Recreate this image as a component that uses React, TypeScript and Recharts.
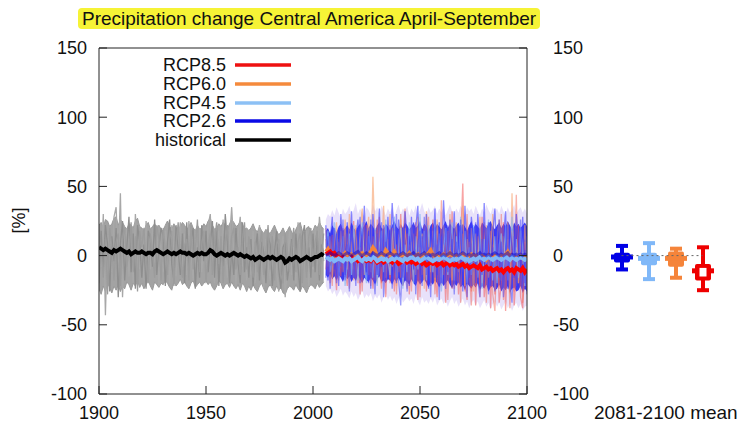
import React from "react";
import {
  ComposedChart,
  Line,
  Area,
  Bar,
  XAxis,
  YAxis,
  Legend,
  ReferenceLine,
} from "recharts";

// historical ensemble 1900-2005
const histMean = [
  6, 5, 4, 5, 4, 3, 2, 4, 3, 4,
  5, 4, 3, 2, 3, 1, 2, 3, 2, 2,
  3, 2, 1, 2, 2, 1, 3, 4, 3, 2,
  1, 2, 3, 2, 1, 2, 1, 2, 3, 2,
  2, 1, 2, 1, 0, 1, 2, 1, 2, 1,
  1, 2, 4, 3, 1, 0, 1, 2, 1, 0,
  1, 0, 1, 2, 1, 0, 1, 0, -1, 0,
  -1, -2, -1, -3, -2, -1, -2, -3, -2, -1,
  -2, -1, -2, -3, -2, -1, -2, -5, -4, -2,
  -3, -2, -1, -2, -4, -3, -2, -1, -2, -3,
  -2, -1, -1, 0, 1, 0,
];
const histHi = [
  22, 24, 20, 26, 25, 21, 23, 27, 28, 22,
  26, 24, 21, 19, 23, 22, 20, 25, 27, 21,
  20, 18, 22, 24, 19, 21, 23, 20, 22, 19,
  18, 22, 25, 21, 19, 23, 20, 18, 21, 24,
  22, 19, 21, 24, 20, 18, 22, 19, 20, 23,
  21, 25, 27, 22, 19, 20, 23, 21, 24, 22,
  19, 23, 26, 24, 21, 22, 25, 23, 19, 20,
  18, 20, 23, 19, 17, 21, 18, 16, 19, 17,
  16, 19, 22, 18, 15, 17, 20, 16, 18, 21,
  17, 15, 19, 22, 24, 18, 16, 20, 21, 17,
  18, 22, 20, 24, 21, 19,
];
const histLo = [
  -24, -28, -22, -26, -20, -23, -27, -22, -25, -21,
  -26, -22, -24, -19, -21, -25, -20, -22, -18, -23,
  -20, -24, -21, -18, -22, -25, -19, -21, -23, -20,
  -21, -18, -20, -23, -25, -19, -22, -20, -17, -21,
  -19, -22, -24, -20, -18, -23, -21, -19, -22, -20,
  -18, -21, -19, -23, -25, -22, -18, -20, -24, -21,
  -20, -23, -19, -22, -24, -21, -25, -20, -22, -26,
  -22, -25, -21, -24, -26, -22, -20, -24, -27, -23,
  -21, -24, -26, -22, -25, -23, -27, -28, -24, -22,
  -23, -25, -21, -24, -26, -22, -24, -27, -23, -21,
  -22, -24, -20, -23, -21, -19,
];
const histMemberA = [
  10, -8, 30, -43, 15, 5, -12, 28, 35, -5,
  45, -30, 12, 20, -15, 8, -20, 30, 5, -10,
  12, -18, 25, 3, -10, 20, -5, 14, -22, 8,
  -12, 18, 6, -20, 22, 2, -15, 10, 24, -8,
  16, -14, 25, 4, -18, 12, -6, 20, -12, 5,
  -10, 22, 30, -5, -20, 8, 18, -12, 26, 2,
  -16, 12, 35, 6, -22, 15, 28, -8, 10, -18,
  5, -14, 18, -20, 8, 22, -10, -24, 12, -6,
  -18, 10, 16, -12, -26, 4, 14, -30, -8, 18,
  -14, 6, -20, 24, 10, -16, 4, 18, -22, 8,
  -10, 20, -6, 28, 12, -4,
];
const histMemberB = [
  -20, 18, -10, 22, 8, -26, 14, -4, 20, -30,
  8, 25, -18, 6, 28, -12, 16, -24, 22, 10,
  -16, 8, -24, 18, 12, -8, 26, -14, 6, 20,
  14, -22, 10, 26, -6, -18, 22, 4, -14, 16,
  -20, 24, -8, 10, 20, -24, 6, -16, 22, -4,
  18, -12, 8, 25, -16, 20, -22, 6, -8, 30,
  10, -20, 4, -14, 20, -6, -20, 24, -12, 6,
  -16, 12, -22, 4, 16, -18, 10, 2, -20, 14,
  8, -22, 2, 18, -10, -24, 6, 10, -18, -6,
  12, -18, 16, -8, -26, 14, 22, -12, 6, -16,
  16, -12, 14, -18, 8, 2,
];
const histMemberC = [
  14, 4, -16, 12, -28, 20, 6, -18, 10, 16,
  -22, 12, 20, -8, 4, 24, -12, 14, -26, 18,
  6, 20, -6, -20, 16, 2, -16, 22, 12, -18,
  20, 4, -14, 12, 18, -22, 8, 24, -4, -16,
  8, 12, -18, 22, -10, 4, 26, -12, 8, 18,
  -20, 6, 16, -14, 12, 24, -6, 14, -20, 10,
  22, -8, 14, 20, -10, 6, -14, 12, 24, -10,
  14, 2, -16, 10, -12, 6, 18, -14, 4, 22,
  -10, 14, -18, 8, 12, -14, -20, 16, 4, -12,
  6, 20, -12, 10, 16, -20, 8, -16, 14, 20,
  -8, 10, 18, -14, 2, 16,
];

// scenario runs 2006-2100
const rcp26Mean = [
  0, 1, 2, 1, 0, 1, 2, 1, 0, 1,
  2, 1, 0, 1, 2, 3, 1, 0, 1, 2,
  1, 0, 2, 1, 0, 1, 2, 1, 0, 1,
  2, 1, 0, 1, 0, 1, 2, 1, 0, 1,
  1, 2, 0, 1, 0, 1, 2, 0, 1, 0,
  1, 0, 1, 2, 0, 1, 0, 1, 2, 1,
  0, 1, 0, 1, 2, 1, 0, 1, 0, 1,
  0, 1, 2, 0, 1, 0, 1, 0, 1, 2,
  1, 0, 1, 0, 1, 2, 0, 1, 0, 1,
  0, 1, 0, 1, 0,
];
const rcp45Mean = [
  -1, -2, -3, -2, -4, -3, -2, -3, -4, -2,
  -3, -2, -4, -3, -2, -1, -3, -4, -2, -3,
  -2, -3, -1, -2, -4, -3, -2, -3, -2, -4,
  -3, -2, -3, -1, -2, -3, -4, -2, -3, -2,
  -1, -2, -3, -2, -4, -3, -2, -1, -2, -3,
  -4, -3, -2, -3, -2, -1, -2, -3, -4, -3,
  -2, -3, -2, -1, -2, -3, -2, -4, -3, -2,
  -3, -2, -1, -2, -3, -2, -1, -2, -3, -2,
  -1, -2, -3, -2, -1, -2, -3, -1, -2, -3,
  -2, -1, -2, -3, -2,
];
const rcp60Mean = [
  3, 5, 2, 0, -1, 0, 1, -1, 0, 2,
  0, -1, 1, 0, -2, 0, 1, 2, 0, -1,
  1, 3, 6, 4, 0, -1, 1, 0, 4, 2,
  0, 1, 3, 0, -2, 0, 1, -1, 0, 2,
  0, -1, 0, 1, -2, 0, 1, 0, 2, 4,
  1, -1, 0, -2, 0, 1, -1, 0, 2, 0,
  -1, 0, -2, 0, 1, -1, -2, 0, 1, -1,
  0, -2, -1, 0, -1, -3, 0, -1, -2, 0,
  -1, -2, 0, -1, 1, 3, 0, -2, -1, -2,
  -1, 0, -2, -1, 0,
];
const rcp85Mean = [
  1, 2, 3, 1, 2, 0, -1, -2, -1, -2,
  -3, -2, -1, -3, -2, -4, -3, -2, -3, -4,
  -3, -4, -2, -3, -5, -4, -3, -5, -4, -3,
  -4, -5, -3, -4, -6, -5, -4, -3, -5, -4,
  -5, -4, -6, -5, -4, -6, -5, -7, -6, -5,
  -6, -5, -7, -6, -5, -7, -6, -5, -7, -6,
  -7, -6, -8, -7, -6, -8, -7, -9, -8, -7,
  -8, -9, -7, -10, -9, -8, -10, -9, -11, -10,
  -9, -11, -10, -12, -10, -9, -11, -10, -12, -9,
  -10, -11, -9, -12, -10,
];
const futInnerHi = [
  18, 20, 16, 22, 19, 17, 21, 23, 18, 20,
  22, 19, 24, 20, 18, 21, 23, 19, 22, 25,
  20, 23, 21, 18, 22, 24, 20, 19, 23, 21,
  18, 22, 25, 21, 19, 23, 20, 24, 22, 19,
  21, 24, 20, 22, 25, 19, 23, 21, 18, 22,
  24, 20, 23, 21, 19, 22, 25, 20, 23, 21,
  19, 22, 24, 20, 23, 21, 18, 22, 25, 20,
  23, 21, 19, 24, 22, 20, 23, 25, 21, 19,
  22, 24, 20, 23, 21, 25, 22, 19, 24, 21,
  23, 20, 22, 24, 21,
];
const futInnerLo = [
  -14, -16, -13, -17, -15, -18, -14, -16, -19, -15,
  -17, -15, -19, -16, -18, -14, -17, -20, -16, -18,
  -19, -16, -18, -21, -17, -15, -19, -18, -20, -17,
  -18, -21, -17, -19, -16, -20, -22, -18, -19, -21,
  -17, -20, -22, -18, -21, -19, -17, -20, -23, -19,
  -21, -18, -20, -23, -19, -22, -20, -18, -21, -24,
  -20, -22, -19, -23, -21, -25, -20, -22, -24, -21,
  -23, -20, -25, -22, -24, -21, -26, -23, -22, -25,
  -24, -21, -26, -23, -25, -22, -27, -24, -23, -26,
  -25, -22, -27, -24, -26,
];
const futOuterHi = [
  26, 30, 28, 33, 29, 35, 31, 27, 34, 30,
  32, 36, 29, 33, 38, 30, 34, 31, 28, 35,
  33, 29, 37, 32, 35, 30, 36, 33, 29, 34,
  31, 35, 28, 33, 37, 30, 34, 32, 36, 29,
  34, 31, 36, 30, 33, 38, 32, 29, 35, 31,
  33, 36, 30, 34, 31, 35, 29, 33, 37, 32,
  30, 34, 31, 36, 33, 29, 35, 32, 34, 30,
  36, 32, 29, 34, 31, 37, 33, 30, 35, 32,
  34, 30, 36, 32, 29, 35, 31, 33, 37, 30,
  33, 35, 31, 34, 30,
];
const futOuterLo = [
  -22, -26, -24, -28, -25, -30, -27, -24, -29, -26,
  -28, -31, -26, -30, -27, -32, -29, -25, -31, -28,
  -30, -27, -33, -29, -31, -28, -34, -30, -27, -32,
  -29, -33, -30, -35, -31, -28, -34, -32, -30, -33,
  -31, -35, -29, -33, -36, -30, -34, -32, -35, -31,
  -34, -30, -36, -33, -31, -35, -32, -37, -33, -30,
  -35, -32, -37, -34, -31, -36, -33, -38, -34, -32,
  -36, -33, -38, -35, -32, -37, -34, -39, -35, -33,
  -37, -34, -39, -36, -33, -38, -35, -40, -36, -34,
  -38, -35, -40, -37, -36,
];
const redMember1 = [
  -10, 8, -20, 15, -5, -25, 10, -15, 20, -8,
  -22, 12, -6, 25, -18, 4, -28, 14, -10, 22,
  -14, 6, -24, 18, -8, 28, -20, 2, -30, 12,
  -16, 20, -26, 8, -12, 30, -22, -4, 16, -28,
  10, -18, 24, -32, 6, -14, 22, -26, 4, -20,
  26, -12, -30, 14, -22, 8, -34, 18, -16, 32,
  -24, 6, -28, 12, 52, -20, -32, 10, -26, 16,
  -36, 4, -22, 28, -30, -14, 20, -38, 8, -28,
  14, -34, -20, 24, -40, 6, -26, 18, -36, -12,
  22, -30, -38, 10, -24,
];
const redMember2 = [
  12, -14, 4, -22, 18, -6, -18, 22, -12, 6,
  16, -24, 10, -10, 20, -20, 6, -26, 24, -4,
  8, -22, 14, -18, 26, -6, -24, 20, -12, 4,
  -20, 10, 22, -28, 4, -16, 14, 34, -24, 8,
  -26, 16, -8, 20, -30, 12, -18, 6, 28, -22,
  4, -28, 18, -20, 40, -14, 10, -32, 6, -24,
  20, -18, 4, -34, 16, -26, 30, -10, -36, 8,
  -22, 14, -30, -6, 24, -34, 2, 18, -28, -40,
  6, -24, 30, -32, -14, 12, -38, 4, -26, 44,
  -20, 8, -34, -16, 4,
];
const orangeMember = [
  20, -8, 14, -16, 8, 24, -12, 18, -4, 26,
  -10, 30, 6, -18, 22, -6, 16, 34, -14, 10,
  28, -12, 57, 8, -20, 24, 2, 36, -16, 12,
  30, -8, 18, -22, 14, 26, -10, 20, 4, -18,
  22, 8, -14, 28, -6, 16, -24, 32, 10, -12,
  18, -20, 26, 4, -16, 22, 10, -8, 30, -18,
  14, 24, -12, 6, 36, -22, 12, -6, 20, -26,
  16, -10, 28, -20, 8, 22, -16, 4, 30, -24,
  10, 26, -18, 14, -8, 24, -28, 45, -12, 6,
  -20, 18, -6, 22, -14,
];
const blueMember1 = [
  22, -18, 10, 28, -10, 16, -22, 30, 4, -14,
  24, -6, 32, -16, 12, 26, -20, 8, 36, -12,
  18, -24, 30, 6, -14, 34, -8, 22, -18, 28,
  -6, 38, 10, -20, 26, 2, -16, 32, 12, -22,
  28, -10, 20, 36, -18, 14, -8, 30, -24, 18,
  6, 34, -14, 24, -20, 40, 10, -12, 26, -6,
  32, -18, 16, 22, -26, 36, 4, -16, 28, 12,
  -20, 30, 8, -14, 38, -10, 24, -22, 16, 34,
  -8, 26, -18, 12, 32, -24, 20, 6, -16, 30,
  10, -12, 28, -20, 22,
];
const blueMember2 = [
  -16, 14, -24, 6, 20, -20, 12, -8, 26, -18,
  8, -26, 18, 4, -22, 14, 28, -16, -4, 20,
  -20, 26, -10, -28, 16, -14, 24, -30, 10, -6,
  22, -24, -4, 30, -18, -36, 20, -10, -26, 14,
  -8, 24, -28, 10, 18, -22, 28, -14, 6, -30,
  20, -16, 8, -32, 14, -8, -24, 22, -18, 12,
  -28, 10, -20, 26, -12, -6, -30, 16, -22, 8,
  24, -18, -30, 12, -6, 20, -28, -12, 6, -26,
  18, -16, 10, -30, -4, 22, -20, -34, 14, -22,
  -10, 26, -24, 4, -28,
];
const lightBlueMember = [
  6, 18, -12, -4, 24, 10, -16, 4, 14, -22,
  -6, 16, -14, 22, 2, -18, 10, 24, -8, -20,
  14, 4, -16, 20, -22, 8, 18, -12, 26, -2,
  -14, 12, 28, -16, 6, 20, -24, 8, -12, 24,
  4, -20, 14, -10, 30, -6, 18, -18, 22, 2,
  -12, 26, -6, 16, -26, 4, 20, -14, 8, 24,
  -18, 14, -4, 28, -10, 18, -20, 6, -14, 22,
  2, -16, 20, -24, 12, -8, 26, -4, -18, 14,
  -20, 8, 16, -12, 22, -18, 4, 28, -10, 12,
  -16, 20, 6, -22, 14,
];

// 2081-2100 mean summary
const scenarios = ["RCP2.6", "RCP4.5", "RCP6.0", "RCP8.5"];
const boxHi = [7, 9, 5, 6];
const boxUpper = [2, 2, 3, -6];
const boxMean = [-1, -2, -2, -11];
const boxLower = [-5, -7, -8, -18];
const boxLo = [-10, -17, -16, -25];

const yTicks = [-100, -50, 0, 50, 100, 150];
const xTicks = [1900, 1950, 2000, 2050, 2100];

const legendItems = [
  { label: "RCP8.5", color: "#ee1111" },
  { label: "RCP6.0", color: "#f58a3c" },
  { label: "RCP4.5", color: "#8cc0f5" },
  { label: "RCP2.6", color: "#0a0ae6" },
  { label: "historical", color: "#000000" },
];

const boxColors = ["#0000e6", "#80b8f8", "#f5843a", "#ee0000"];

const histYears = histMean.map((_, i) => 1900 + i);
const futYears = rcp26Mean.map((_, i) => 2006 + i);

const series = (years: number[], vals: number[]) =>
  years.map((year, i) => ({ year, v: vals[i] }));
const band = (years: number[], lo: number[], hi: number[]) =>
  years.map((year, i) => ({ year, r: [lo[i], hi[i]] }));

const boxData = scenarios.map((name, i) => ({
  name,
  range: [boxLo[i], boxHi[i]],
  hi: boxHi[i],
  up: boxUpper[i],
  mean: boxMean[i],
  low: boxLower[i],
  lo: boxLo[i],
  color: boxColors[i],
  hollow: i === 3,
}));

const font = "'Liberation Sans', Arial, sans-serif";
const tickStyle = { fontSize: 18, fill: "#111", fontFamily: font };

function LegendBox() {
  return (
    <div style={{ fontFamily: font, fontSize: 18, color: "#111" }}>
      {legendItems.map((it) => (
        <div key={it.label} style={{ display: "flex", alignItems: "center", height: 18.7 }}>
          <span style={{ width: 110, textAlign: "right", lineHeight: "18px" }}>{it.label}</span>
          <svg width={65} height={8} style={{ marginLeft: 9 }}>
            <line x1={0} x2={56} y1={4} y2={4} stroke={it.color} strokeWidth={3.5} />
          </svg>
        </div>
      ))}
    </div>
  );
}

function BoxShape(props: any) {
  const { x, y, width, height, payload } = props;
  const { hi, lo, up, mean, low, color, hollow } = payload;
  const cx = x + width / 2;
  const py = (v: number) => y + ((hi - v) / (hi - lo)) * height;
  return (
    <g>
      <rect x={cx - 2} y={py(hi)} width={4} height={py(lo) - py(hi)} fill={color} />
      <rect x={cx - 6} y={py(hi) - 2} width={12} height={4} fill={color} />
      <rect x={cx - 6} y={py(lo) - 2} width={12} height={4} fill={color} />
      <rect x={cx - 8} y={py(up)} width={16} height={py(low) - py(up)} rx={2} fill={color} />
      <rect x={cx - 11} y={py(mean) - 2.5} width={22} height={5} fill={color} />
      {hollow && (
        <rect x={cx - 3.5} y={py(up) + 4} width={7} height={py(low) - py(up) - 8} fill="#fff" />
      )}
    </g>
  );
}

export default function App() {
  return (
    <div style={{ position: "absolute", left: 0, top: 0, width: 740, height: 425, background: "#fff", fontFamily: font }}>
      <div
        style={{
          position: "absolute",
          left: 78,
          top: 8,
          padding: "0 4px",
          background: "#f6f336",
          borderRadius: 4,
          fontSize: 19,
          lineHeight: "21px",
          color: "#111",
          whiteSpace: "nowrap",
        }}
      >
        Precipitation change Central America April-September
      </div>
      <div
        style={{
          position: "absolute",
          left: 4,
          top: 210,
          width: 30,
          fontSize: 18,
          color: "#111",
          transform: "rotate(-90deg)",
          textAlign: "center",
        }}
      >
        [%]
      </div>

      <ComposedChart
        width={740}
        height={425}
        margin={{ top: 18, right: 153, bottom: 1, left: 39 }}
        style={{ position: "absolute", left: 0, top: 0 }}
      >
        <XAxis
          dataKey="year"
          type="number"
          domain={[1900, 2100]}
          ticks={xTicks}
          interval={0}
          allowDataOverflow
          height={30}
          tickSize={-8}
          tickMargin={20}
          tick={tickStyle}
          stroke="#222"
        />
        <XAxis
          xAxisId="top"
          orientation="top"
          dataKey="year"
          type="number"
          domain={[1900, 2100]}
          ticks={xTicks}
          allowDataOverflow
          height={30}
          tickSize={-8}
          tick={false}
          stroke="#222"
        />
        <YAxis
          type="number"
          domain={[-100, 150]}
          ticks={yTicks}
          interval={0}
          allowDataOverflow
          width={60}
          tickSize={-8}
          tickMargin={20}
          tick={tickStyle}
          stroke="#222"
        />
        <YAxis
          yAxisId="right"
          orientation="right"
          type="number"
          domain={[-100, 150]}
          ticks={yTicks}
          interval={0}
          allowDataOverflow
          width={60}
          tickSize={-8}
          tickMargin={34}
          tick={tickStyle}
          stroke="#222"
        />

        <Area data={band(histYears, histLo, histHi)} dataKey="r" stroke="#999" strokeWidth={1} fill="#8c8c8c" fillOpacity={0.8} isAnimationActive={false} />
        <Line data={series(histYears, histMemberA)} dataKey="v" stroke="#a8a8a8" strokeWidth={1.3} dot={false} isAnimationActive={false} />
        <Line data={series(histYears, histMemberB)} dataKey="v" stroke="#8e8e8e" strokeWidth={1.3} dot={false} isAnimationActive={false} />
        <Line data={series(histYears, histMemberC)} dataKey="v" stroke="#9c9c9c" strokeWidth={1.3} dot={false} isAnimationActive={false} />
        <Line data={series(histYears, histMean)} dataKey="v" stroke="#000" strokeWidth={4} dot={false} isAnimationActive={false} />

        <Area data={band(futYears, futOuterLo, futOuterHi)} dataKey="r" stroke="none" fill="#8a6ae8" fillOpacity={0.2} isAnimationActive={false} />
        <Line data={series(futYears, redMember1)} dataKey="v" stroke="#f25a5a" strokeOpacity={0.55} strokeWidth={1.3} dot={false} isAnimationActive={false} />
        <Line data={series(futYears, redMember2)} dataKey="v" stroke="#f26a5a" strokeOpacity={0.5} strokeWidth={1.3} dot={false} isAnimationActive={false} />
        <Line data={series(futYears, orangeMember)} dataKey="v" stroke="#f7a06a" strokeOpacity={0.6} strokeWidth={1.3} dot={false} isAnimationActive={false} />
        <Line data={series(futYears, lightBlueMember)} dataKey="v" stroke="#8ab8f0" strokeOpacity={0.7} strokeWidth={1.3} dot={false} isAnimationActive={false} />
        <Area data={band(futYears, futInnerLo, futInnerHi)} dataKey="r" stroke="none" fill="#1414f0" fillOpacity={0.82} isAnimationActive={false} />
        <Line data={series(futYears, blueMember1)} dataKey="v" stroke="#3a3aff" strokeOpacity={0.6} strokeWidth={1.3} dot={false} isAnimationActive={false} />
        <Line data={series(futYears, blueMember2)} dataKey="v" stroke="#4a4af5" strokeOpacity={0.55} strokeWidth={1.3} dot={false} isAnimationActive={false} />
        <Line data={series(futYears, rcp60Mean)} dataKey="v" stroke="#f5843a" strokeWidth={3.5} dot={false} isAnimationActive={false} />
        <Line data={series(futYears, rcp85Mean)} dataKey="v" stroke="#ff0000" strokeWidth={4} dot={false} isAnimationActive={false} />
        <Line data={series(futYears, rcp45Mean)} dataKey="v" stroke="#80b8f8" strokeWidth={4} dot={false} isAnimationActive={false} />
        <Line data={series(futYears, rcp26Mean)} dataKey="v" stroke="#0000d0" strokeWidth={3} strokeOpacity={0.5} dot={false} isAnimationActive={false} />

        <Legend
          layout="vertical"
          align="center"
          verticalAlign="middle"
          content={() => <LegendBox />}
          wrapperStyle={{ left: 116, top: 56, width: 200, height: 100 }}
        />
      </ComposedChart>

      <ComposedChart
        width={108}
        height={425}
        data={boxData}
        margin={{ top: 48, right: 0, bottom: 31, left: 0 }}
        style={{ position: "absolute", left: 608, top: 0 }}
      >
        <XAxis dataKey="name" hide />
        <YAxis type="number" domain={[-100, 150]} allowDataOverflow hide />
        <ReferenceLine
          segment={[{ x: "RCP2.6", y: 0 }, { x: "RCP8.5", y: 0 }]}
          stroke="#666"
          strokeDasharray="2 3"
        />
        <Bar dataKey="range" barSize={22} shape={<BoxShape />} isAnimationActive={false} />
      </ComposedChart>

      <div style={{ position: "absolute", left: 594, top: 402, fontSize: 19, color: "#111", whiteSpace: "nowrap" }}>
        2081-2100 mean
      </div>
    </div>
  );
}
